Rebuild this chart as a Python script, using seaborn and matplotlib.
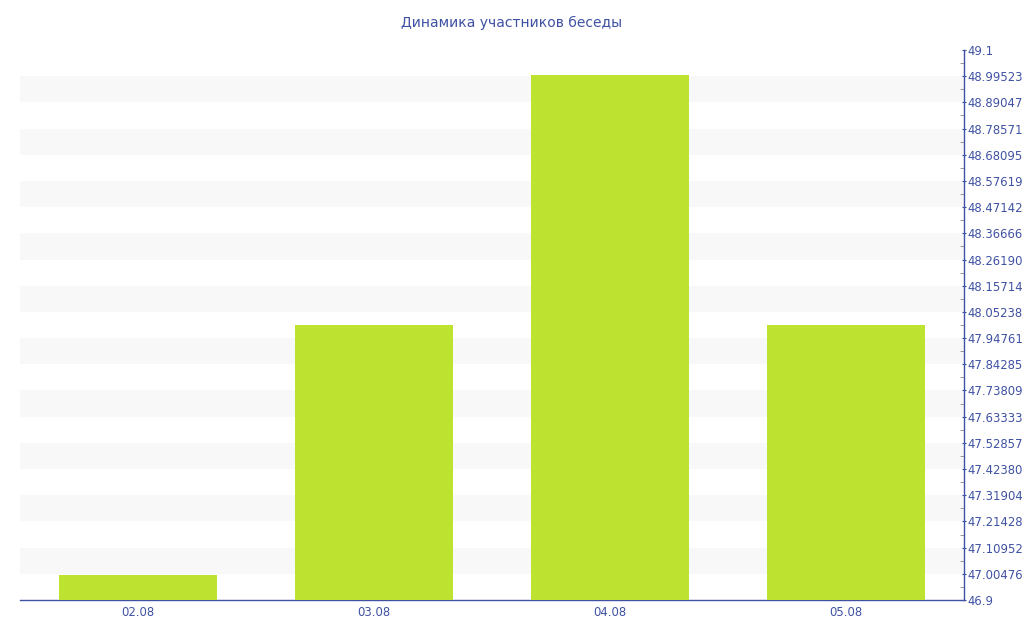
import numpy as np
import pandas as pd
import matplotlib
matplotlib.use('Agg')
import matplotlib.pyplot as plt
import seaborn as sb

dates = ['02.08', '03.08', '04.08', '05.08']
members = [47, 48, 49, 48]

y_min, y_max = 46.9, 49.1
y_ticks = np.linspace(y_min, y_max, 22)
y_labels = ['46.9', '47.00476', '47.10952', '47.21428', '47.31904', '47.42380',
            '47.52857', '47.63333', '47.73809', '47.84285', '47.94761', '48.05238',
            '48.15714', '48.26190', '48.36666', '48.47142', '48.57619', '48.68095',
            '48.78571', '48.89047', '48.99523', '49.1']

blue = '#3f51a3'
sb.set_style('white')
plt.rcParams['font.family'] = ['DejaVu Sans']

fig = plt.figure(figsize=(10.24, 6.4), dpi=100)
ax = fig.add_axes([20/1024, 40/640, 944/1024, 550/640])

df = pd.DataFrame({'date': dates, 'n': members})
sb.barplot(data=df, x='date', y='n', color='#bde22f', saturation=1,
           width=0.67, linewidth=0, ax=ax, zorder=3)

# alternating bands
for i in range(1, 21, 2):
    ax.axhspan(y_ticks[i], y_ticks[i+1], color='#f8f8f8', zorder=0, lw=0)

ax.set_ylim(y_min, y_max)
ax.set_xlim(-0.5, 3.5)
ax.yaxis.tick_right()
ax.set_yticks(y_ticks)
ax.set_yticklabels(y_labels)
ax.set_yticks((y_ticks[:-1] + y_ticks[1:]) / 2, minor=True)
ax.tick_params(axis='y', which='major', length=3, color=blue, labelcolor=blue,
               labelsize=8.4, pad=1, direction='inout')
ax.tick_params(axis='y', which='minor', length=3, color='#888888', direction='in')
ax.tick_params(axis='x', length=4, color='#666666', labelcolor=blue,
               labelsize=8.4, pad=0.5)
ax.set_xlabel('')
ax.set_ylabel('')

for s in ['top', 'left']:
    ax.spines[s].set_visible(False)
for s in ['right', 'bottom']:
    ax.spines[s].set_color(blue)
    ax.spines[s].set_linewidth(1)

fig.text(0.5, 1 - 23/640, 'Динамика участников беседы', ha='center', va='center',
         color=blue, fontsize=10)

fig.savefig('out.png', dpi=100)
